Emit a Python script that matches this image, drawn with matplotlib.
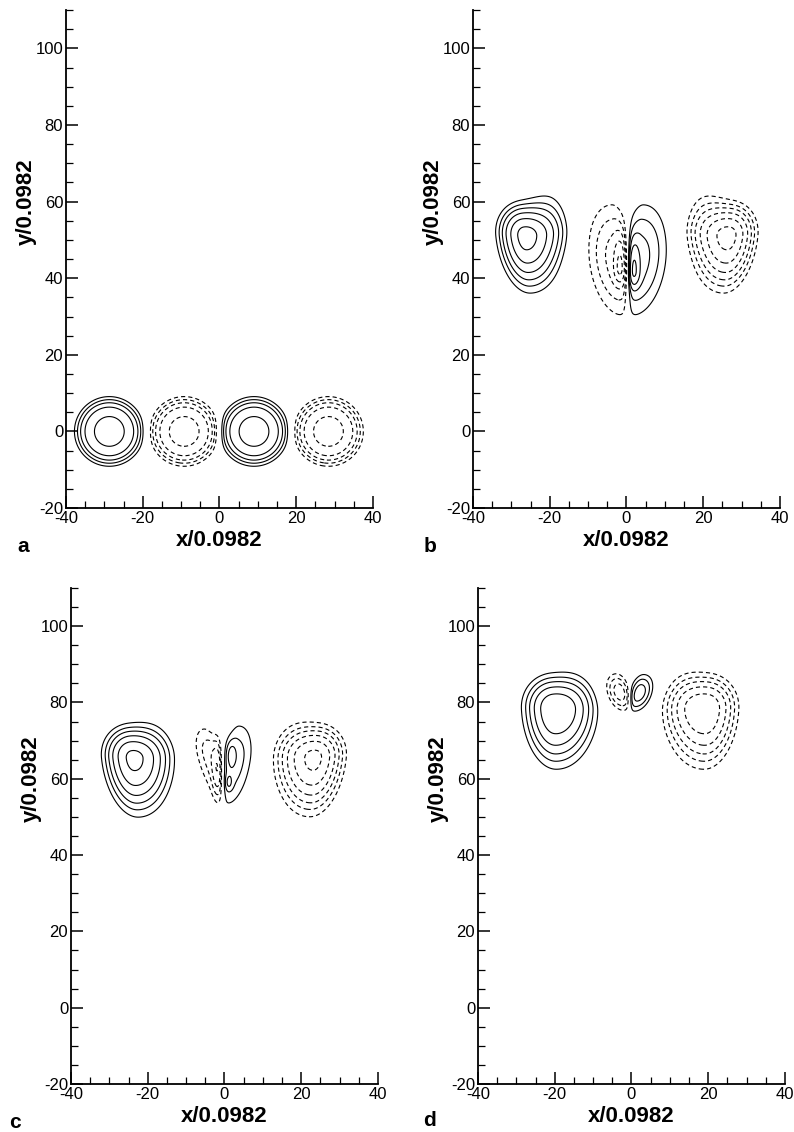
import numpy as np
import matplotlib.pyplot as plt
from matplotlib.ticker import MultipleLocator

plt.rcParams['font.family'] = ['Liberation Sans', 'DejaVu Sans']
plt.rcParams['axes.unicode_minus'] = False
plt.rcParams['lines.dashed_pattern'] = [3.0, 2.2]
plt.rcParams['lines.scale_dashes'] = False

# contour levels (positive -> solid, negative -> dashed)
levels = [0.06, 0.1, 0.15, 0.225, 0.34, 0.5]

# vortex blobs
v_panel = ['a', 'a', 'a', 'a',
           'b', 'b', 'b', 'b', 'b', 'b', 'b', 'b',
           'c', 'c', 'c', 'c', 'c', 'c', 'c', 'c', 'c',
           'd', 'd', 'd', 'd', 'd', 'd']
v_x = [-28.7, -9.2, 9.0, 28.4,
       -26.6, -20.5, 26.8, 20.7, 1.8, 3.0, -1.6, -2.4,
       -24.1, -19.0, 23.8, 18.7, 2.5, 1.6, 1.1, -3.5, -1.8,
       -20.4, -15.0, 19.7, 14.3, 2.0, -3.0]
v_y = [0.0, 0.0, 0.0, 0.0,
       51.0, 54.0, 51.0, 54.0, 41.7, 45.0, 42.6, 45.0,
       65.4, 67.0, 65.5, 67.0, 65.0, 66.5, 59.0, 66.0, 63.0,
       78.2, 79.0, 78.2, 79.0, 82.5, 82.7]
v_amp = [0.37, -0.37, 0.37, -0.37,
         0.55, 0.11, -0.55, -0.11, 0.22, 0.18, -0.22, -0.18,
         0.52, 0.08, -0.52, -0.08, 0.13, 0.07, 0.07, -0.13, -0.12,
         0.46, 0.09, -0.46, -0.09, 0.19, -0.19]
v_sxl = [7.7, 7.7, 7.7, 7.7,
         5.0, 5.5, 6.5, 5.0, 1.5, 4.0, 1.5, 7.0,
         5.4, 5.5, 6.8, 5.5, 3.0, 1.4, 1.0, 4.0, 1.3,
         5.8, 5.0, 7.5, 5.0, 2.5, 3.3]
v_sxr = [7.7, 7.7, 7.7, 7.7,
         6.5, 5.0, 5.0, 5.5, 1.5, 7.0, 1.5, 4.0,
         6.8, 5.5, 5.4, 5.5, 4.9, 1.4, 1.0, 3.0, 1.3,
         7.5, 5.0, 5.8, 5.0, 3.3, 2.5]
v_syd = [7.7, 7.7, 7.7, 7.7,
         10.0, 7.0, 10.0, 7.0, 3.5, 14.0, 3.5, 14.0,
         10.5, 8.0, 10.5, 8.0, 13.0, 3.5, 2.0, 12.0, 7.0,
         11.0, 7.0, 11.0, 7.0, 4.5, 4.5]
v_syu = [7.7, 7.7, 7.7, 7.7,
         6.0, 8.5, 6.0, 8.5, 7.0, 13.5, 7.0, 13.5,
         6.0, 8.0, 6.0, 8.0, 10.0, 3.5, 2.0, 8.0, 7.0,
         6.5, 8.0, 6.5, 8.0, 4.5, 4.5]
v_lean = [0.0, 0.0, 0.0, 0.0,
          -0.1, 0.0, 0.1, 0.0, 0.0, 0.1, 0.0, -0.1,
          -0.1, 0.0, 0.1, 0.0, 0.15, 0.0, 0.0, -0.25, 0.0,
          -0.05, 0.0, 0.05, 0.0, 0.25, -0.2]
v_exp = [3.6, 3.6, 3.6, 3.6,
         2, 2, 2, 2, 2, 2, 2, 2,
         2, 2, 2, 2, 2, 2, 2, 2, 2,
         2, 2, 2, 2, 2, 2]
# x of the interface that splits a dipole pair (nan: no split)
nan = np.nan
v_cut = [nan, nan, nan, nan,
         nan, nan, nan, nan, 0.3, 0.3, 0.3, 0.3,
         nan, nan, nan, nan, -0.5, -0.5, -0.5, -0.5, -0.5,
         nan, nan, nan, nan, -0.5, -0.5]
v_cutw = [0, 0, 0, 0,
          0, 0, 0, 0, 0.8, 0.8, 0.8, 0.8,
          0, 0, 0, 0, 0.6, 0.6, 0.6, 0.6, 0.6,
          0, 0, 0, 0, 0.5, 0.5]

panels = ['a', 'b', 'c', 'd']
xlab = 'x/0.0982'
ylab = 'y/0.0982'

xg = np.linspace(-40, 40, 801)
yg = np.linspace(-20, 110, 1301)
X, Y = np.meshgrid(xg, yg)


def blob(i):
    dy = Y - v_y[i]
    dx = X - (v_x[i] + v_lean[i] * dy)
    sx = np.where(dx < 0, v_sxl[i], v_sxr[i])
    sy = np.where(dy < 0, v_syd[i], v_syu[i])
    r2 = (dx / sx) ** 2 + (dy / sy) ** 2
    f = v_amp[i] * np.exp(-r2 ** (v_exp[i] / 2.0))
    if not np.isnan(v_cut[i]):
        side = np.sign(v_amp[i])
        f = f * np.clip(np.tanh(side * (X - v_cut[i]) / v_cutw[i]), 0, 1)
    return f


def field(p):
    z = np.zeros_like(X)
    for i, name in enumerate(v_panel):
        if name == p:
            z += blob(i)
    return z


fig = plt.figure(figsize=(7.94, 11.32), dpi=100)
rects = [[0.0831, 0.5512, 0.3866, 0.4399],
         [0.5957, 0.5512, 0.3866, 0.4399],
         [0.0894, 0.0424, 0.3866, 0.4382],
         [0.6020, 0.0424, 0.3866, 0.4382]]
letter_xy = [(23, 546), (430, 546), (15, 1122), (430, 1121)]

for p, r, (lx, ly) in zip(panels, rects, letter_xy):
    ax = fig.add_axes(r)
    z = field(p)
    ax.contour(X, Y, z, levels=levels, colors='k', linewidths=0.8, linestyles='solid')
    ax.contour(X, Y, z, levels=[-l for l in levels[::-1]], colors='k',
               linewidths=0.8, linestyles='dashed')
    ax.set_xlim(-40, 40)
    ax.set_ylim(-20, 110)
    ax.spines['top'].set_visible(False)
    ax.spines['right'].set_visible(False)
    for s in ('left', 'bottom'):
        ax.spines[s].set_linewidth(1.3)
    ax.xaxis.set_major_locator(MultipleLocator(20))
    ax.xaxis.set_minor_locator(MultipleLocator(5))
    ax.yaxis.set_major_locator(MultipleLocator(20))
    ax.yaxis.set_minor_locator(MultipleLocator(5))
    ax.tick_params(which='major', direction='in', length=8.5, width=1.1, labelsize=12, pad=2)
    ax.tick_params(which='minor', direction='in', length=5, width=0.9)
    ax.tick_params(top=False, right=False)
    ax.set_xlabel(xlab, fontsize=16, fontweight='bold', labelpad=3)
    ax.set_ylabel(ylab, fontsize=16, fontweight='bold')
    ax.yaxis.set_label_coords(-0.095, 0.615)
    fig.text(lx / 794, 1 - ly / 1132, p, fontsize=15, fontweight='bold',
             ha='center', va='center')

fig.savefig('out.png', dpi=100)
